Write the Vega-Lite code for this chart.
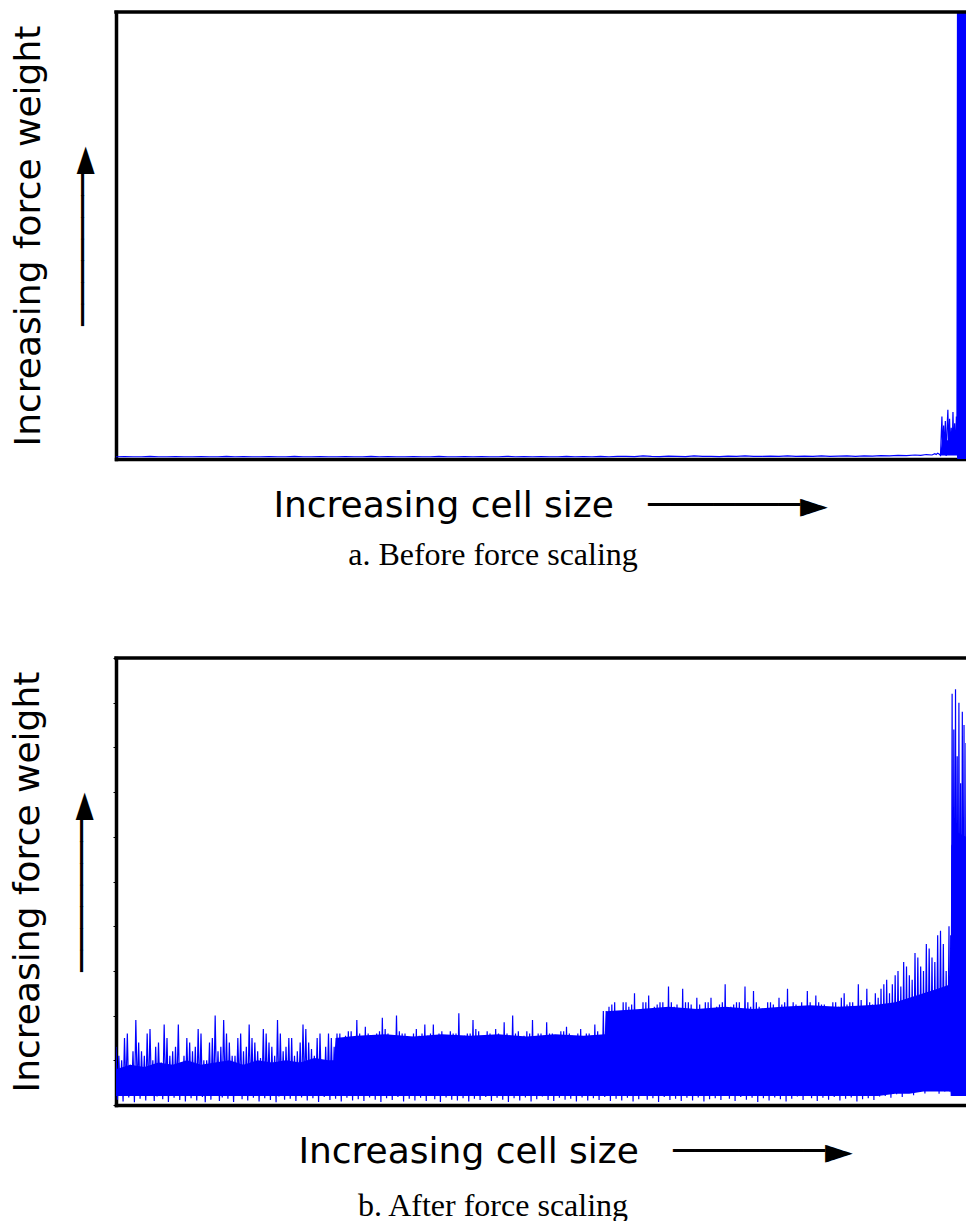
{
"$schema": "https://vega.github.io/schema/vega-lite/v6.json",
"padding": {"left": 9, "top": 9, "right": 0, "bottom": 0},
"background": "white",
"spacing": 84,
"config": {"view": {"stroke": null}},
"datasets": {
"top": [{"y": 100}],
"acore": [
{"x":291,"lo":0.8,"hi":1.5},{"x":291.5,"lo":0.8,"hi":4},{"x":296.8,"lo":0.8,"hi":4.5},{"x":296.9,"lo":0,"hi":100},{"x":300,"lo":0,"hi":100}
],
"bcore": [
{"x":0,"lo":2,"hi":8},{"x":5,"lo":2,"hi":9},{"x":10,"lo":2,"hi":8.5},{"x":15,"lo":2,"hi":9.5},{"x":20,"lo":2,"hi":9},{"x":25,"lo":2,"hi":10},{"x":30,"lo":2,"hi":9},{"x":35,"lo":2,"hi":9.5},{"x":40,"lo":2,"hi":10},{"x":45,"lo":2,"hi":9},{"x":50,"lo":2,"hi":10},{"x":55,"lo":2,"hi":9.5},{"x":60,"lo":2,"hi":10},{"x":65,"lo":2,"hi":9.5},{"x":70,"lo":2,"hi":10.5},{"x":75,"lo":2,"hi":10},{"x":77,"lo":2,"hi":10},
{"x":77.5,"lo":2,"hi":15},{"x":85,"lo":2,"hi":15.5},{"x":95,"lo":2,"hi":15.8},{"x":105,"lo":2,"hi":15.3},{"x":115,"lo":2,"hi":15.8},{"x":125,"lo":2,"hi":15.5},{"x":135,"lo":2,"hi":15.8},{"x":145,"lo":2,"hi":15.3},{"x":155,"lo":2,"hi":15.8},{"x":165,"lo":2,"hi":15.5},{"x":172.5,"lo":2,"hi":15.8},
{"x":173,"lo":2,"hi":21},{"x":185,"lo":2,"hi":21.5},{"x":195,"lo":2,"hi":22},{"x":205,"lo":2,"hi":21.5},{"x":215,"lo":2,"hi":22},{"x":225,"lo":2,"hi":21.5},{"x":235,"lo":2,"hi":22},{"x":245,"lo":2,"hi":22.3},{"x":255,"lo":2,"hi":22},{"x":265,"lo":2,"hi":22.3},{"x":269,"lo":2,"hi":22.5},
{"x":275,"lo":2.5,"hi":23},{"x":280,"lo":2.5,"hi":24},{"x":285,"lo":3,"hi":25},{"x":290,"lo":3,"hi":26},{"x":294.6,"lo":3,"hi":27},{"x":294.8,"lo":2,"hi":58},{"x":297,"lo":2,"hi":61},{"x":300,"lo":2,"hi":60}
],
"a": [
{"x":0,"y":0.5},{"x":3,"y":0.55},{"x":6,"y":0.5},{"x":9,"y":0.5},{"x":12,"y":0.6},{"x":15,"y":0.5},{"x":18,"y":0.5},{"x":21,"y":0.55},{"x":24,"y":0.5},{"x":27,"y":0.5},{"x":30,"y":0.55},{"x":33,"y":0.5},{"x":36,"y":0.5},{"x":39,"y":0.6},{"x":42,"y":0.5},{"x":45,"y":0.55},{"x":48,"y":0.5},{"x":51,"y":0.5},{"x":54,"y":0.55},{"x":57,"y":0.5},{"x":60,"y":0.5},{"x":63,"y":0.6},{"x":66,"y":0.5},{"x":69,"y":0.5},{"x":72,"y":0.55},{"x":75,"y":0.5},{"x":78,"y":0.5},{"x":81,"y":0.55},{"x":84,"y":0.5},{"x":87,"y":0.5},{"x":90,"y":0.6},{"x":93,"y":0.5},{"x":96,"y":0.55},{"x":99,"y":0.5},{"x":102,"y":0.5},{"x":105,"y":0.55},{"x":108,"y":0.5},{"x":111,"y":0.5},{"x":114,"y":0.6},{"x":117,"y":0.5},{"x":120,"y":0.5},{"x":123,"y":0.55},{"x":126,"y":0.5},{"x":129,"y":0.55},{"x":132,"y":0.5},{"x":135,"y":0.5},{"x":138,"y":0.6},{"x":141,"y":0.5},{"x":144,"y":0.55},{"x":147,"y":0.5},{"x":150,"y":0.55},{"x":153,"y":0.5},{"x":156,"y":0.5},{"x":159,"y":0.6},{"x":162,"y":0.5},{"x":165,"y":0.55},{"x":168,"y":0.5},{"x":171,"y":0.6},{"x":174,"y":0.5},{"x":177,"y":0.6},
{"x":180,"y":0.6},{"x":183,"y":0.55},{"x":186,"y":0.7},{"x":189,"y":0.6},{"x":192,"y":0.55},{"x":195,"y":0.65},{"x":198,"y":0.6},{"x":201,"y":0.55},{"x":204,"y":0.7},{"x":207,"y":0.6},{"x":210,"y":0.6},{"x":213,"y":0.55},{"x":216,"y":0.65},{"x":219,"y":0.6},{"x":222,"y":0.7},{"x":225,"y":0.6},{"x":228,"y":0.6},{"x":231,"y":0.65},{"x":234,"y":0.6},{"x":237,"y":0.7},{"x":240,"y":0.6},{"x":243,"y":0.65},{"x":246,"y":0.6},{"x":249,"y":0.7},{"x":252,"y":0.6},{"x":255,"y":0.65},{"x":258,"y":0.7},{"x":261,"y":0.6},{"x":264,"y":0.7},{"x":267,"y":0.65},{"x":270,"y":0.75},{"x":273,"y":0.7},{"x":276,"y":0.8},{"x":279,"y":0.75},{"x":282,"y":0.9},{"x":284,"y":0.8},{"x":286,"y":1.0},{"x":288,"y":0.9},
{"x":289,"y":1.2},{"x":289.5,"y":1.0},{"x":290,"y":1.3},{"x":290.5,"y":1.1},{"x":291,"y":0.8},{"x":291.5,"y":9.5},{"x":291.8,"y":1.2},{"x":292.1,"y":7.5},{"x":292.4,"y":1.0},{"x":292.7,"y":8.5},{"x":293,"y":0.7},{"x":293.3,"y":6.5},{"x":293.6,"y":11.0},{"x":293.9,"y":2.0},{"x":294.2,"y":9.0},{"x":294.5,"y":1.5},{"x":294.8,"y":7.0},{"x":295.1,"y":1.0},{"x":295.4,"y":10.5},{"x":295.7,"y":2.0},{"x":296,"y":8.0},{"x":296.3,"y":0.9},{"x":296.6,"y":9.5},{"x":296.8,"y":1.0},
{"x":297.0,"y":100},{"x":297.2,"y":0.5},{"x":297.4,"y":100},{"x":297.6,"y":0.5},{"x":297.8,"y":100},{"x":298.0,"y":0.5},{"x":298.2,"y":100},{"x":298.4,"y":0.5},{"x":298.6,"y":100},{"x":298.8,"y":0.5},{"x":299.0,"y":100},{"x":299.2,"y":0.5},{"x":299.4,"y":100},{"x":299.6,"y":0.5},{"x":299.8,"y":100},{"x":300,"y":0.5}
],
"b": [
{"x":0,"y":13},{"x":0.5,"y":1.2},{"x":1,"y":11},{"x":1.5,"y":2.6},{"x":2,"y":10},{"x":2.5,"y":0.8},{"x":3,"y":15},{"x":3.5,"y":3.1},{"x":4,"y":16},{"x":4.5,"y":1.7},{"x":5,"y":9},{"x":5.5,"y":2.2},{"x":6,"y":12},{"x":6.5,"y":0.6},{"x":7,"y":19},{"x":7.5,"y":3.4},{"x":8,"y":14},{"x":8.5,"y":1.4},{"x":9,"y":12},{"x":9.5,"y":2.9},
{"x":10,"y":11},{"x":10.5,"y":1.0},{"x":11,"y":16},{"x":11.5,"y":2.4},{"x":12,"y":17},{"x":12.5,"y":3.6},{"x":13,"y":10},{"x":13.5,"y":0.9},{"x":14,"y":13},{"x":14.5,"y":1.9},{"x":15,"y":14},{"x":15.5,"y":2.7},{"x":16,"y":9.5},{"x":16.5,"y":1.3},{"x":17,"y":18},{"x":17.5,"y":3.0},{"x":18,"y":15},{"x":18.5,"y":0.7},{"x":19,"y":11},{"x":19.5,"y":2.1},
{"x":20,"y":12},{"x":20.5,"y":1.6},{"x":21,"y":13},{"x":21.5,"y":3.3},{"x":22,"y":18},{"x":22.5,"y":1.1},{"x":23,"y":9.5},{"x":23.5,"y":2.5},{"x":24,"y":11},{"x":24.5,"y":0.8},{"x":25,"y":15},{"x":25.5,"y":3.2},{"x":26,"y":14},{"x":26.5,"y":1.5},{"x":27,"y":12},{"x":27.5,"y":2.3},{"x":28,"y":13},{"x":28.5,"y":1.0},{"x":29,"y":17},{"x":29.5,"y":2.8},
{"x":30,"y":16},{"x":30.5,"y":1.8},{"x":31,"y":10},{"x":31.5,"y":0.6},{"x":32,"y":10},{"x":32.5,"y":3.5},{"x":33,"y":14},{"x":33.5,"y":1.2},{"x":34,"y":15},{"x":34.5,"y":2.0},{"x":35,"y":20},{"x":35.5,"y":2.9},{"x":36,"y":12},{"x":36.5,"y":0.9},{"x":37,"y":13},{"x":37.5,"y":1.7},{"x":38,"y":19},{"x":38.5,"y":3.1},{"x":39,"y":16},{"x":39.5,"y":1.4},
{"x":40,"y":14},{"x":40.5,"y":2.6},{"x":41,"y":11},{"x":41.5,"y":0.7},{"x":42,"y":11},{"x":42.5,"y":2.2},{"x":43,"y":15},{"x":43.5,"y":3.6},{"x":44,"y":16},{"x":44.5,"y":1.3},{"x":45,"y":12},{"x":45.5,"y":2.4},{"x":46,"y":13},{"x":46.5,"y":1.0},{"x":47,"y":18},{"x":47.5,"y":2.8},{"x":48,"y":15},{"x":48.5,"y":1.6},{"x":49,"y":14},{"x":49.5,"y":3.0},
{"x":50,"y":12},{"x":50.5,"y":0.8},{"x":51,"y":10.5},{"x":51.5,"y":2.1},{"x":52,"y":17},{"x":52.5,"y":1.5},{"x":53,"y":16},{"x":53.5,"y":3.4},{"x":54,"y":14},{"x":54.5,"y":1.1},{"x":55,"y":13},{"x":55.5,"y":2.5},{"x":56,"y":11},{"x":56.5,"y":0.6},{"x":57,"y":19},{"x":57.5,"y":1.9},{"x":58,"y":16},{"x":58.5,"y":2.7},{"x":59,"y":12},{"x":59.5,"y":1.2},
{"x":60,"y":13},{"x":60.5,"y":3.2},{"x":61,"y":15},{"x":61.5,"y":1.4},{"x":62,"y":15},{"x":62.5,"y":2.0},{"x":63,"y":11},{"x":63.5,"y":0.9},{"x":64,"y":12},{"x":64.5,"y":2.9},{"x":65,"y":14},{"x":65.5,"y":1.7},{"x":66,"y":18},{"x":66.5,"y":3.5},{"x":67,"y":17},{"x":67.5,"y":1.0},{"x":68,"y":14},{"x":68.5,"y":2.3},{"x":69,"y":12.5},{"x":69.5,"y":1.5},
{"x":70,"y":11},{"x":70.5,"y":2.6},{"x":71,"y":15},{"x":71.5,"y":0.7},{"x":72,"y":16},{"x":72.5,"y":3.1},{"x":73,"y":10},{"x":73.5,"y":1.8},{"x":74,"y":13},{"x":74.5,"y":2.2},{"x":75,"y":16},{"x":75.5,"y":1.1},{"x":76,"y":15},{"x":76.5,"y":2.8},{"x":77,"y":13},{"x":77.5,"y":1.4},
{"x":78,"y":16},{"x":78.5,"y":2.5},{"x":79,"y":16},{"x":79.5,"y":0.8},{"x":80,"y":15},{"x":80.5,"y":3.3},{"x":81,"y":15.5},{"x":81.5,"y":1.6},{"x":82,"y":16.5},{"x":82.5,"y":2.1},{"x":83,"y":16.5},{"x":83.5,"y":1.0},{"x":84,"y":14},{"x":84.5,"y":3.0},{"x":85,"y":19},{"x":85.5,"y":1.3},{"x":86,"y":16},{"x":86.5,"y":2.7},{"x":87,"y":15},{"x":87.5,"y":0.9},
{"x":88,"y":17.5},{"x":88.5,"y":2.4},{"x":89,"y":16},{"x":89.5,"y":1.7},{"x":90,"y":15.5},{"x":90.5,"y":3.6},{"x":91,"y":14},{"x":91.5,"y":1.2},{"x":92,"y":16},{"x":92.5,"y":2.0},{"x":93,"y":16.5},{"x":93.5,"y":0.7},{"x":94,"y":19.5},{"x":94.5,"y":2.9},{"x":95,"y":17},{"x":95.5,"y":1.5},{"x":96,"y":16},{"x":96.5,"y":2.3},{"x":97,"y":15.5},{"x":97.5,"y":1.1},
{"x":98,"y":15},{"x":98.5,"y":3.2},{"x":99,"y":20},{"x":99.5,"y":1.8},{"x":100,"y":16.5},{"x":100.5,"y":2.6},{"x":101,"y":16},{"x":101.5,"y":0.8},{"x":102,"y":16},{"x":102.5,"y":2.2},{"x":103,"y":13},{"x":103.5,"y":1.4},{"x":104,"y":14.5},{"x":104.5,"y":3.4},{"x":105,"y":16},{"x":105.5,"y":1.0},{"x":106,"y":17},{"x":106.5,"y":2.5},{"x":107,"y":15.5},{"x":107.5,"y":1.6},
{"x":108,"y":16},{"x":108.5,"y":2.8},{"x":109,"y":18},{"x":109.5,"y":0.9},{"x":110,"y":15.5},{"x":110.5,"y":2.1},{"x":111,"y":16},{"x":111.5,"y":3.0},{"x":112,"y":18},{"x":112.5,"y":1.3},{"x":113,"y":15},{"x":113.5,"y":2.4},{"x":114,"y":16},{"x":114.5,"y":0.7},{"x":115,"y":16.5},{"x":115.5,"y":3.5},{"x":116,"y":15},{"x":116.5,"y":1.7},{"x":117,"y":14},{"x":117.5,"y":2.0},
{"x":118,"y":16.5},{"x":118.5,"y":1.2},{"x":119,"y":16},{"x":119.5,"y":2.7},{"x":120,"y":16},{"x":120.5,"y":1.0},{"x":121,"y":20.5},{"x":121.5,"y":3.1},{"x":122,"y":13.5},{"x":122.5,"y":1.5},{"x":123,"y":15.5},{"x":123.5,"y":2.3},{"x":124,"y":16},{"x":124.5,"y":0.8},{"x":125,"y":16},{"x":125.5,"y":2.9},{"x":126,"y":19},{"x":126.5,"y":1.4},{"x":127,"y":17},{"x":127.5,"y":2.2},
{"x":128,"y":16.5},{"x":128.5,"y":1.1},{"x":129,"y":15},{"x":129.5,"y":3.3},{"x":130,"y":15.5},{"x":130.5,"y":1.8},{"x":131,"y":16.5},{"x":131.5,"y":2.6},{"x":132,"y":16},{"x":132.5,"y":0.9},{"x":133,"y":12.5},{"x":133.5,"y":2.0},{"x":134,"y":17},{"x":134.5,"y":1.6},{"x":135,"y":16},{"x":135.5,"y":3.6},{"x":136,"y":15},{"x":136.5,"y":1.2},{"x":137,"y":18.5},{"x":137.5,"y":2.4},
{"x":138,"y":16},{"x":138.5,"y":0.7},{"x":139,"y":15.5},{"x":139.5,"y":2.8},{"x":140,"y":20},{"x":140.5,"y":1.5},{"x":141,"y":16},{"x":141.5,"y":2.1},{"x":142,"y":16.5},{"x":142.5,"y":1.0},{"x":143,"y":15},{"x":143.5,"y":3.2},{"x":144,"y":15.5},{"x":144.5,"y":1.7},{"x":145,"y":16.5},{"x":145.5,"y":2.5},{"x":146,"y":16},{"x":146.5,"y":0.8},{"x":147,"y":19},{"x":147.5,"y":2.2},
{"x":148,"y":14},{"x":148.5,"y":1.3},{"x":149,"y":16},{"x":149.5,"y":3.0},{"x":150,"y":16},{"x":150.5,"y":1.9},{"x":151,"y":15.5},{"x":151.5,"y":2.6},{"x":152,"y":18.5},{"x":152.5,"y":1.1},{"x":153,"y":16},{"x":153.5,"y":2.3},{"x":154,"y":16},{"x":154.5,"y":0.9},{"x":155,"y":14},{"x":155.5,"y":3.4},{"x":156,"y":15.5},{"x":156.5,"y":1.6},{"x":157,"y":16.5},{"x":157.5,"y":2.0},
{"x":158,"y":16.5},{"x":158.5,"y":1.2},{"x":159,"y":17.5},{"x":159.5,"y":2.7},{"x":160,"y":16},{"x":160.5,"y":1.4},{"x":161,"y":15.5},{"x":161.5,"y":3.1},{"x":162,"y":15},{"x":162.5,"y":0.8},{"x":163,"y":16},{"x":163.5,"y":2.4},{"x":164,"y":17},{"x":164.5,"y":1.7},{"x":165,"y":13.5},{"x":165.5,"y":2.9},{"x":166,"y":16},{"x":166.5,"y":1.0},{"x":167,"y":16},{"x":167.5,"y":2.2},
{"x":168,"y":15.5},{"x":168.5,"y":1.5},{"x":169,"y":18},{"x":169.5,"y":3.3},{"x":170,"y":16.5},{"x":170.5,"y":1.1},{"x":171,"y":15.5},{"x":171.5,"y":2.5},{"x":172,"y":21},{"x":172.5,"y":1.8},
{"x":173,"y":21},{"x":173.5,"y":2.6},{"x":174,"y":22},{"x":174.5,"y":0.9},{"x":175,"y":22.5},{"x":175.5,"y":3.0},{"x":176,"y":23},{"x":176.5,"y":1.4},{"x":177,"y":19},{"x":177.5,"y":2.2},{"x":178,"y":21},{"x":178.5,"y":1.0},{"x":179,"y":23},{"x":179.5,"y":3.5},{"x":180,"y":23},{"x":180.5,"y":1.6},{"x":181,"y":22},{"x":181.5,"y":2.4},{"x":182,"y":22.5},{"x":182.5,"y":0.8},
{"x":183,"y":25},{"x":183.5,"y":2.9},{"x":184,"y":20},{"x":184.5,"y":1.3},{"x":185,"y":21.5},{"x":185.5,"y":2.0},{"x":186,"y":23},{"x":186.5,"y":3.8},{"x":187,"y":23},{"x":187.5,"y":1.2},{"x":188,"y":24.5},{"x":188.5,"y":2.7},{"x":189,"y":18},{"x":189.5,"y":1.5},{"x":190,"y":22},{"x":190.5,"y":2.3},{"x":191,"y":22.5},{"x":191.5,"y":0.7},{"x":192,"y":23},{"x":192.5,"y":3.2},
{"x":193,"y":23},{"x":193.5,"y":1.8},{"x":194,"y":21.5},{"x":194.5,"y":2.5},{"x":195,"y":26.5},{"x":195.5,"y":1.1},{"x":196,"y":23},{"x":196.5,"y":3.0},{"x":197,"y":22},{"x":197.5,"y":1.4},{"x":198,"y":22.5},{"x":198.5,"y":2.1},{"x":199,"y":20},{"x":199.5,"y":0.9},{"x":200,"y":26},{"x":200.5,"y":2.8},{"x":201,"y":23},{"x":201.5,"y":1.6},{"x":202,"y":23},{"x":202.5,"y":3.4},
{"x":203,"y":22.5},{"x":203.5,"y":1.0},{"x":204,"y":21},{"x":204.5,"y":2.4},{"x":205,"y":24},{"x":205.5,"y":1.7},{"x":206,"y":22.5},{"x":206.5,"y":2.9},{"x":207,"y":21},{"x":207.5,"y":0.8},{"x":208,"y":23},{"x":208.5,"y":2.2},{"x":209,"y":23},{"x":209.5,"y":1.3},{"x":210,"y":24},{"x":210.5,"y":3.6},{"x":211,"y":17.5},{"x":211.5,"y":1.5},{"x":212,"y":22},{"x":212.5,"y":2.6},
{"x":213,"y":22.5},{"x":213.5,"y":1.1},{"x":214,"y":23},{"x":214.5,"y":2.0},{"x":215,"y":27},{"x":215.5,"y":3.1},{"x":216,"y":20.5},{"x":216.5,"y":1.4},{"x":217,"y":22},{"x":217.5,"y":2.5},{"x":218,"y":22.5},{"x":218.5,"y":0.9},{"x":219,"y":23},{"x":219.5,"y":2.8},{"x":220,"y":23},{"x":220.5,"y":1.8},{"x":221,"y":20.5},{"x":221.5,"y":3.3},{"x":222,"y":26.5},{"x":222.5,"y":1.2},
{"x":223,"y":23},{"x":223.5,"y":2.3},{"x":224,"y":22},{"x":224.5,"y":1.6},{"x":225,"y":25.5},{"x":225.5,"y":2.7},{"x":226,"y":23},{"x":226.5,"y":0.7},{"x":227,"y":22},{"x":227.5,"y":3.0},{"x":228,"y":21.5},{"x":228.5,"y":1.5},{"x":229,"y":21},{"x":229.5,"y":2.1},{"x":230,"y":23},{"x":230.5,"y":1.0},{"x":231,"y":23},{"x":231.5,"y":3.5},{"x":232,"y":22.5},{"x":232.5,"y":1.7},
{"x":233,"y":19.5},{"x":233.5,"y":2.4},{"x":234,"y":24},{"x":234.5,"y":1.3},{"x":235,"y":22.5},{"x":235.5,"y":2.9},{"x":236,"y":23},{"x":236.5,"y":0.8},{"x":237,"y":26},{"x":237.5,"y":2.2},{"x":238,"y":21},{"x":238.5,"y":1.4},{"x":239,"y":23},{"x":239.5,"y":3.2},{"x":240,"y":22.5},{"x":240.5,"y":1.9},{"x":241,"y":22},{"x":241.5,"y":2.6},{"x":242,"y":23},{"x":242.5,"y":1.1},
{"x":243,"y":21},{"x":243.5,"y":2.0},{"x":244,"y":25.5},{"x":244.5,"y":3.4},{"x":245,"y":23},{"x":245.5,"y":1.5},{"x":246,"y":22},{"x":246.5,"y":2.5},{"x":247,"y":24.5},{"x":247.5,"y":0.9},{"x":248,"y":23},{"x":248.5,"y":2.8},{"x":249,"y":22.5},{"x":249.5,"y":1.6},{"x":250,"y":22.5},{"x":250.5,"y":2.3},{"x":251,"y":20},{"x":251.5,"y":1.2},{"x":252,"y":21},{"x":252.5,"y":3.1},
{"x":253,"y":23},{"x":253.5,"y":1.8},{"x":254,"y":23},{"x":254.5,"y":2.4},{"x":255,"y":22},{"x":255.5,"y":1.0},{"x":256,"y":24},{"x":256.5,"y":2.9},{"x":257,"y":25},{"x":257.5,"y":1.4},{"x":258,"y":22.5},{"x":258.5,"y":3.6},{"x":259,"y":23},{"x":259.5,"y":1.7},{"x":260,"y":23},{"x":260.5,"y":2.2},{"x":261,"y":21.5},{"x":261.5,"y":0.8},{"x":262,"y":27},{"x":262.5,"y":2.6},
{"x":263,"y":23.5},{"x":263.5,"y":1.3},{"x":264,"y":22},{"x":264.5,"y":3.0},{"x":265,"y":26},{"x":265.5,"y":1.5},{"x":266,"y":23},{"x":266.5,"y":2.1},{"x":267,"y":22.5},{"x":267.5,"y":1.1},{"x":268,"y":25},{"x":268.5,"y":2.7},{"x":269,"y":24},{"x":269.5,"y":1.9},
{"x":270,"y":26},{"x":270.5,"y":3.2},{"x":271,"y":27},{"x":271.5,"y":2.0},{"x":272,"y":28},{"x":272.5,"y":4.1},{"x":273,"y":25},{"x":273.5,"y":1.6},{"x":274,"y":27},{"x":274.5,"y":3.5},{"x":275,"y":29},{"x":275.5,"y":2.4},{"x":276,"y":30},{"x":276.5,"y":4.6},{"x":277,"y":26.5},{"x":277.5,"y":1.8},{"x":278,"y":32},{"x":278.5,"y":3.9},{"x":279,"y":31},{"x":279.5,"y":2.7},
{"x":280,"y":29},{"x":280.5,"y":5.0},{"x":281,"y":28},{"x":281.5,"y":2.2},{"x":282,"y":34},{"x":282.5,"y":4.4},{"x":283,"y":33},{"x":283.5,"y":3.0},{"x":284,"y":31},{"x":284.5,"y":5.5},{"x":285,"y":30},{"x":285.5,"y":2.6},{"x":286,"y":36},{"x":286.5,"y":4.8},{"x":287,"y":35},{"x":287.5,"y":6.0},{"x":288,"y":33},{"x":288.5,"y":3.4},{"x":289,"y":32},{"x":289.5,"y":5.2},
{"x":290,"y":38},{"x":290.5,"y":2.5},{"x":291,"y":39},{"x":291.5,"y":4.5},{"x":292,"y":36},{"x":292.5,"y":3},{"x":293,"y":30},{"x":293.5,"y":4},{"x":294,"y":40},{"x":294.3,"y":3},{"x":294.6,"y":38},{"x":294.8,"y":2},
{"x":295.1,"y":92},{"x":295.4,"y":6},{"x":295.7,"y":84},{"x":296,"y":3},{"x":296.3,"y":93},{"x":296.6,"y":8},{"x":296.9,"y":78},{"x":297.2,"y":2},{"x":297.5,"y":90},{"x":297.8,"y":11},{"x":298.1,"y":72},{"x":298.4,"y":5},{"x":298.7,"y":88},{"x":299,"y":9},{"x":299.3,"y":85},{"x":299.6,"y":4},{"x":300,"y":81}
]
},
"vconcat": [
{
"width": 850, "height": 447,
"title": {"text": "a. Before force scaling", "orient": "bottom", "font": "Liberation Serif", "fontSize": 32, "fontWeight": "normal", "color": "black", "dx": -48, "offset": 17},
"layer": [
{"data": {"name": "acore"},
 "mark": {"type": "area", "color": "#0000ff", "clip": true},
 "encoding": {
  "x": {"field": "x", "type": "quantitative", "scale": {"domain": [0, 300], "nice": false, "zero": false}},
  "y": {"field": "hi", "type": "quantitative", "scale": {"domain": [0, 100], "nice": false}},
  "y2": {"field": "lo"}
 }},
{"data": {"name": "a"},
 "mark": {"type": "line", "color": "#0000ff", "strokeWidth": 1.2, "clip": true},
 "encoding": {
  "x": {"field": "x", "type": "quantitative", "scale": {"domain": [0, 300], "nice": false, "zero": false},
   "axis": {"title": "Increasing cell size\u00a0\u00a0 ───────►", "domain": true, "domainColor": "black", "domainWidth": 3.5, "domainCap": "square", "ticks": false, "labels": false, "grid": false, "titleFont": "DejaVu Sans", "titleFontSize": 36, "titleFontWeight": "normal", "titleColor": "black", "titlePadding": 29, "titleX": 434}},
  "y": {"field": "y", "type": "quantitative", "scale": {"domain": [0, 100], "nice": false},
   "axis": {"title": ["Increasing force weight", "───────►\u00a0\u00a0"], "domain": true, "domainColor": "black", "domainWidth": 3.5, "domainCap": "square", "ticks": false, "labels": false, "grid": false, "titleFont": "DejaVu Sans", "titleFontSize": 36, "titleFontWeight": "normal", "titleColor": "black", "titlePadding": 14, "titleLineHeight": 55}}
 }},
{"data": {"name": "top"},
 "mark": {"type": "rule", "color": "black", "strokeWidth": 3.5, "strokeCap": "square"},
 "encoding": {"y": {"field": "y", "type": "quantitative"}}}
]
},
{
"width": 850, "height": 447,
"title": {"text": "b. After force scaling", "orient": "bottom", "font": "Liberation Serif", "fontSize": 32, "fontWeight": "normal", "color": "black", "dx": -48, "offset": 22},
"layer": [
{"data": {"name": "bcore"},
 "mark": {"type": "area", "color": "#0000ff", "clip": true},
 "encoding": {
  "x": {"field": "x", "type": "quantitative", "scale": {"domain": [0, 300], "nice": false, "zero": false}},
  "y": {"field": "hi", "type": "quantitative", "scale": {"domain": [0, 100], "nice": false}},
  "y2": {"field": "lo"}
 }},
{"data": {"name": "b"},
 "mark": {"type": "line", "color": "#0000ff", "strokeWidth": 1.2, "clip": true},
 "encoding": {
  "x": {"field": "x", "type": "quantitative", "scale": {"domain": [0, 300], "nice": false, "zero": false},
   "axis": {"title": "Increasing cell size\u00a0\u00a0 ───────►", "domain": true, "domainColor": "black", "domainWidth": 3.5, "domainCap": "square", "ticks": false, "labels": false, "grid": false, "titleFont": "DejaVu Sans", "titleFontSize": 36, "titleFontWeight": "normal", "titleColor": "black", "titlePadding": 29, "titleX": 459}},
  "y": {"field": "y", "type": "quantitative", "scale": {"domain": [0, 100], "nice": false},
   "axis": {"title": ["Increasing force weight", "───────►\u00a0\u00a0"], "domain": true, "domainColor": "black", "domainWidth": 3.5, "domainCap": "square", "ticks": true, "tickSize": 3, "tickWidth": 1, "tickColor": "black", "values": [0,10,20,30,40,50,60,70,80,90,100], "labels": false, "grid": false, "titleFont": "DejaVu Sans", "titleFontSize": 36, "titleFontWeight": "normal", "titleColor": "black", "titlePadding": 11, "titleLineHeight": 55}}
 }},
{"data": {"name": "top"},
 "mark": {"type": "rule", "color": "black", "strokeWidth": 3.5, "strokeCap": "square"},
 "encoding": {"y": {"field": "y", "type": "quantitative"}}}
]
}
]
}
